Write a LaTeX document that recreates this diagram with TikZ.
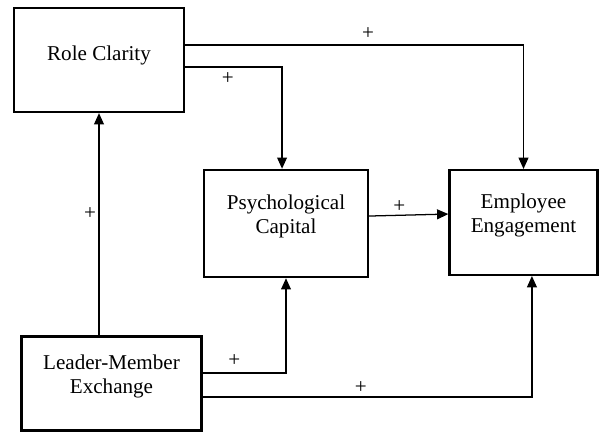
\documentclass[tikz,border=0pt]{standalone}
\usepackage{fontspec}
\setmainfont{Liberation Serif}
\usetikzlibrary{arrows.meta}
\tikzset{
    %Define standard arrow tip
    >={Triangle[length=8pt,width=7pt]},
    %Define style for boxes
    varbox/.style={
           rectangle,
           draw=black, line width=1.6pt,
           inner sep=0pt},
    % Define arrow style
    pil/.style={
           ->,
           line width=0.9pt},
    sign/.style={
           font=\fontsize{15}{17}\selectfont}
}
\begin{document}
\begin{tikzpicture}[x=0.025cm,y=0.025cm,
  every label/.style={font=\fontsize{15}{17}\selectfont,align=center}]
\useasboundingbox (0,0) rectangle (601,432);
\node[varbox,minimum width=4.26cm,minimum height=2.6cm,
  label={[yshift=3.5pt]center:Role Clarity}](rc) at (99,372) {};
\node[varbox,minimum width=4.1cm,minimum height=2.68cm,
  label={[yshift=5.3pt]center:Psychological\\Capital}](pc) at (286,208.5) {};
\node[varbox,minimum width=3.7cm,minimum height=2.62cm,
  label={[yshift=5.3pt]center:Employee\\Engagement}](ee) at (523.5,209.5) {};
\node[varbox,minimum width=4.5cm,minimum height=2.35cm,
  label={[yshift=5.3pt]center:Leader-Member\\Exchange}](lmx) at (111.5,48.5) {};
\draw[pil] ([yshift=10.6pt]rc.east) -| (ee.north)
  node[sign,pos=.27,yshift=8.5pt]{+};
\draw[pil] ([yshift=-5pt]rc.east) -| ([xshift=-2.8pt]pc.north)
  node[sign,pos=.22,yshift=-8.5pt]{+};
\draw[pil] ([yshift=5.3pt]pc.east) -- ([yshift=6pt]ee.west)
  node[sign,pos=.38,yshift=6pt]{+};
\draw[pil] (lmx.north -| rc.south) -- (rc.south)
  node[sign,pos=.55,xshift=-6.4pt]{+};
\draw[pil] ([yshift=7.4pt]lmx.east) -| (pc.south)
  node[sign,pos=.19,yshift=9.2pt]{+};
\draw[pil] ([yshift=-9.6pt]lmx.east) -| ([xshift=6pt]ee.south)
  node[sign,pos=.24,yshift=7pt]{+};
\end{tikzpicture}
\end{document}
